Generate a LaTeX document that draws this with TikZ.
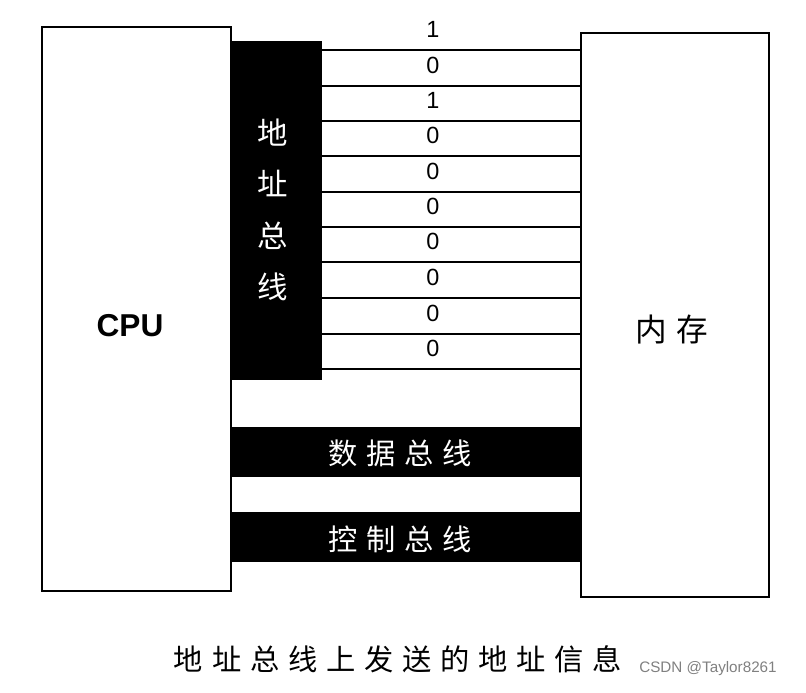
\documentclass[tikz,border=0pt]{standalone}
\usepackage{fontspec}
\setmainfont{Liberation Sans}
\newfontfamily\cjk{Noto Sans CJK SC}
\newfontfamily\cjkwide[LetterSpace=30]{Noto Sans CJK SC}
\begin{document}
\begin{tikzpicture}[
    x=0.03cm, y=-0.03cm,
    box/.style={draw=black, line width=2pt},
    bus/.style={fill=black},
    wire/.style={line width=1.5pt},
    bit/.style={font=\fontsize{20}{20}\selectfont, inner sep=0pt},
    buslabel/.style={text=white, font=\cjkwide\fontsize{25}{25}\selectfont}
]
   \useasboundingbox (0,0) rectangle (806,692);

   % CPU and memory
   \draw[box] (42,27) rectangle (231,591);
   \node[font=\bfseries\fontsize{27}{27}\selectfont] (cpu) at (130,326) {CPU};
   \draw[box] (581,33) rectangle (769,597);
   \node[font=\cjkwide\fontsize{27}{27}\selectfont] (mem) at (672,330) {内存};

   % Address bus
   \fill[bus] (231,41) rectangle (322,380);
   \node[text=white, align=center, font=\cjk\fontsize{26}{44}\selectfont] (abus) at (273,210) {地\\址\\总\\线};
   \foreach \y/\b in {50/1, 86/0, 121/1, 156/0, 192/0, 227/0, 262/0, 298/0, 334/0, 369/0} {
      \coordinate (l\y) at (322,\y);
      \coordinate (r\y) at (581,\y);
      \draw[wire] (l\y) -- (r\y);
      \node[bit] (b\y) at (433,\y-21) {\b};
   }

   % Data and control bus
   \fill[bus] (231,427) rectangle (581,477);
   \node[buslabel] (dbus) at (400,453) {数据总线};
   \fill[bus] (231,512) rectangle (581,562);
   \node[buslabel] (cbus) at (400,539) {控制总线};

   % Caption
   \node[font=\cjkwide\fontsize{25}{25}\selectfont] (cap) at (398,659) {地址总线上发送的地址信息};
   \node[text=gray, font=\fontsize{13}{13}\selectfont] (wm) at (708,669) {CSDN @Taylor8261};
\end{tikzpicture}
\end{document}
